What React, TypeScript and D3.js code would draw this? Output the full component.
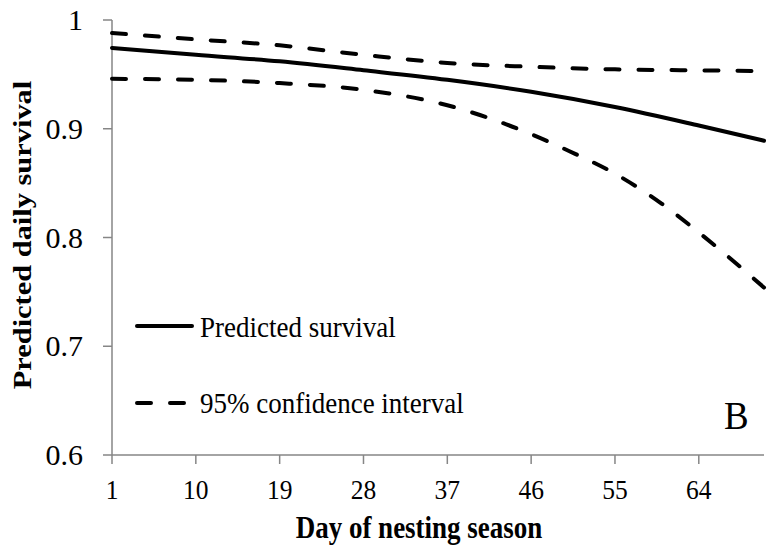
import React from "react";
import * as d3 from "d3";

const days = [1, 10, 19, 28, 37, 46, 55, 64, 71];
const predicted = [0.9743, 0.968, 0.962, 0.9538, 0.945, 0.934, 0.92, 0.903, 0.889];
const upper = [0.988, 0.9822, 0.9767, 0.968, 0.9605, 0.957, 0.9546, 0.9537, 0.953];
const lowerDays = [1, 10, 19, 28, 37, 46, 50, 55, 60, 64, 67, 71];
const lower = [0.9459, 0.945, 0.942, 0.9358, 0.9216, 0.895, 0.8798, 0.8587, 0.8312, 0.8046, 0.7835, 0.754];
const xTicks = [1, 10, 19, 28, 37, 46, 55, 64];
const yTicks = [0.6, 0.7, 0.8, 0.9, 1];
const yTickLabels = ["0.6", "0.7", "0.8", "0.9", "1"];

const W = 773;
const H = 549;
const left = 112;
const right = 764;
const top = 20;
const bottom = 455;
const axisColor = "#868686";
const font = "'Liberation Serif', 'Times New Roman', serif";

export default function App() {
  const x = d3.scaleLinear().domain([1, 71]).range([left, right]);
  const y = d3.scaleLinear().domain([0.6, 1]).range([bottom, top]);
  const line = d3
    .line<[number, number]>()
    .x((d) => x(d[0]))
    .y((d) => y(d[1]))
    .curve(d3.curveMonotoneX);
  const mk = (xs: number[], vals: number[]) =>
    line(xs.map((d, i) => [d, vals[i]] as [number, number])) || "";

  return (
    <svg
      width={W}
      height={H}
      style={{ position: "absolute", left: 0, top: 0, background: "#fff" }}
      fontFamily={font}
    >
      <rect x={0} y={0} width={W} height={H} fill="#fff" />
      {/* axes */}
      <line x1={left} y1={top} x2={left} y2={bottom} stroke={axisColor} strokeWidth={1.5} />
      <line x1={left} y1={bottom} x2={right} y2={bottom} stroke={axisColor} strokeWidth={1.5} />
      {yTicks.map((t, i) => (
        <g key={"y" + t}>
          <line x1={left - 9} x2={left} y1={y(t)} y2={y(t)} stroke={axisColor} strokeWidth={1.5} />
          <text
            transform={`translate(${left - 29},${y(t) + 10})`}
            textAnchor="end"
            fontSize={30}
            fill="#000"
          >
            {yTickLabels[i]}
          </text>
        </g>
      ))}
      {xTicks.map((t) => (
        <g key={"x" + t}>
          <line x1={x(t)} x2={x(t)} y1={bottom} y2={bottom + 9} stroke={axisColor} strokeWidth={1.5} />
          <text
            transform={`translate(${x(t)},${bottom + 44}) scale(1,1.06)`}
            textAnchor="middle"
            fontSize={25.5}
            fill="#000"
          >
            {t}
          </text>
        </g>
      ))}
      {/* series */}
      <path d={mk(days, upper)} fill="none" stroke="#000" strokeWidth={4} strokeDasharray="14 19" strokeLinecap="round" />
      <path d={mk(lowerDays, lower)} fill="none" stroke="#000" strokeWidth={4} strokeDasharray="14 19" strokeLinecap="round" />
      <path d={mk(days, predicted)} fill="none" stroke="#000" strokeWidth={4} strokeLinecap="round" />
      {/* legend */}
      <line x1={137} x2={192} y1={326} y2={326} stroke="#000" strokeWidth={4} strokeLinecap="round" />
      <text transform="translate(200,337) scale(1,1.12)" fontSize={27} fill="#000">
        Predicted survival
      </text>
      <line x1={137} x2={188} y1={403} y2={403} stroke="#000" strokeWidth={4} strokeDasharray="14 19" strokeLinecap="round" />
      <text transform="translate(200,413) scale(1,1.12)" fontSize={27} fill="#000">
        95% confidence interval
      </text>
      <text transform="translate(724,429) scale(1,1.1)" fontSize={37} fill="#000">
        B
      </text>
      {/* axis titles */}
      <text
        transform="translate(419,538) scale(1,1.17)"
        textAnchor="middle"
        fontSize={27}
        fontWeight="bold"
        fill="#000"
      >
        Day of nesting season
      </text>
      <text
        transform="translate(31,235) scale(1,1.17) rotate(-90)"
        textAnchor="middle"
        fontSize={26}
        fontWeight="bold"
        fill="#000"
      >
        Predicted daily survival
      </text>
    </svg>
  );
}
